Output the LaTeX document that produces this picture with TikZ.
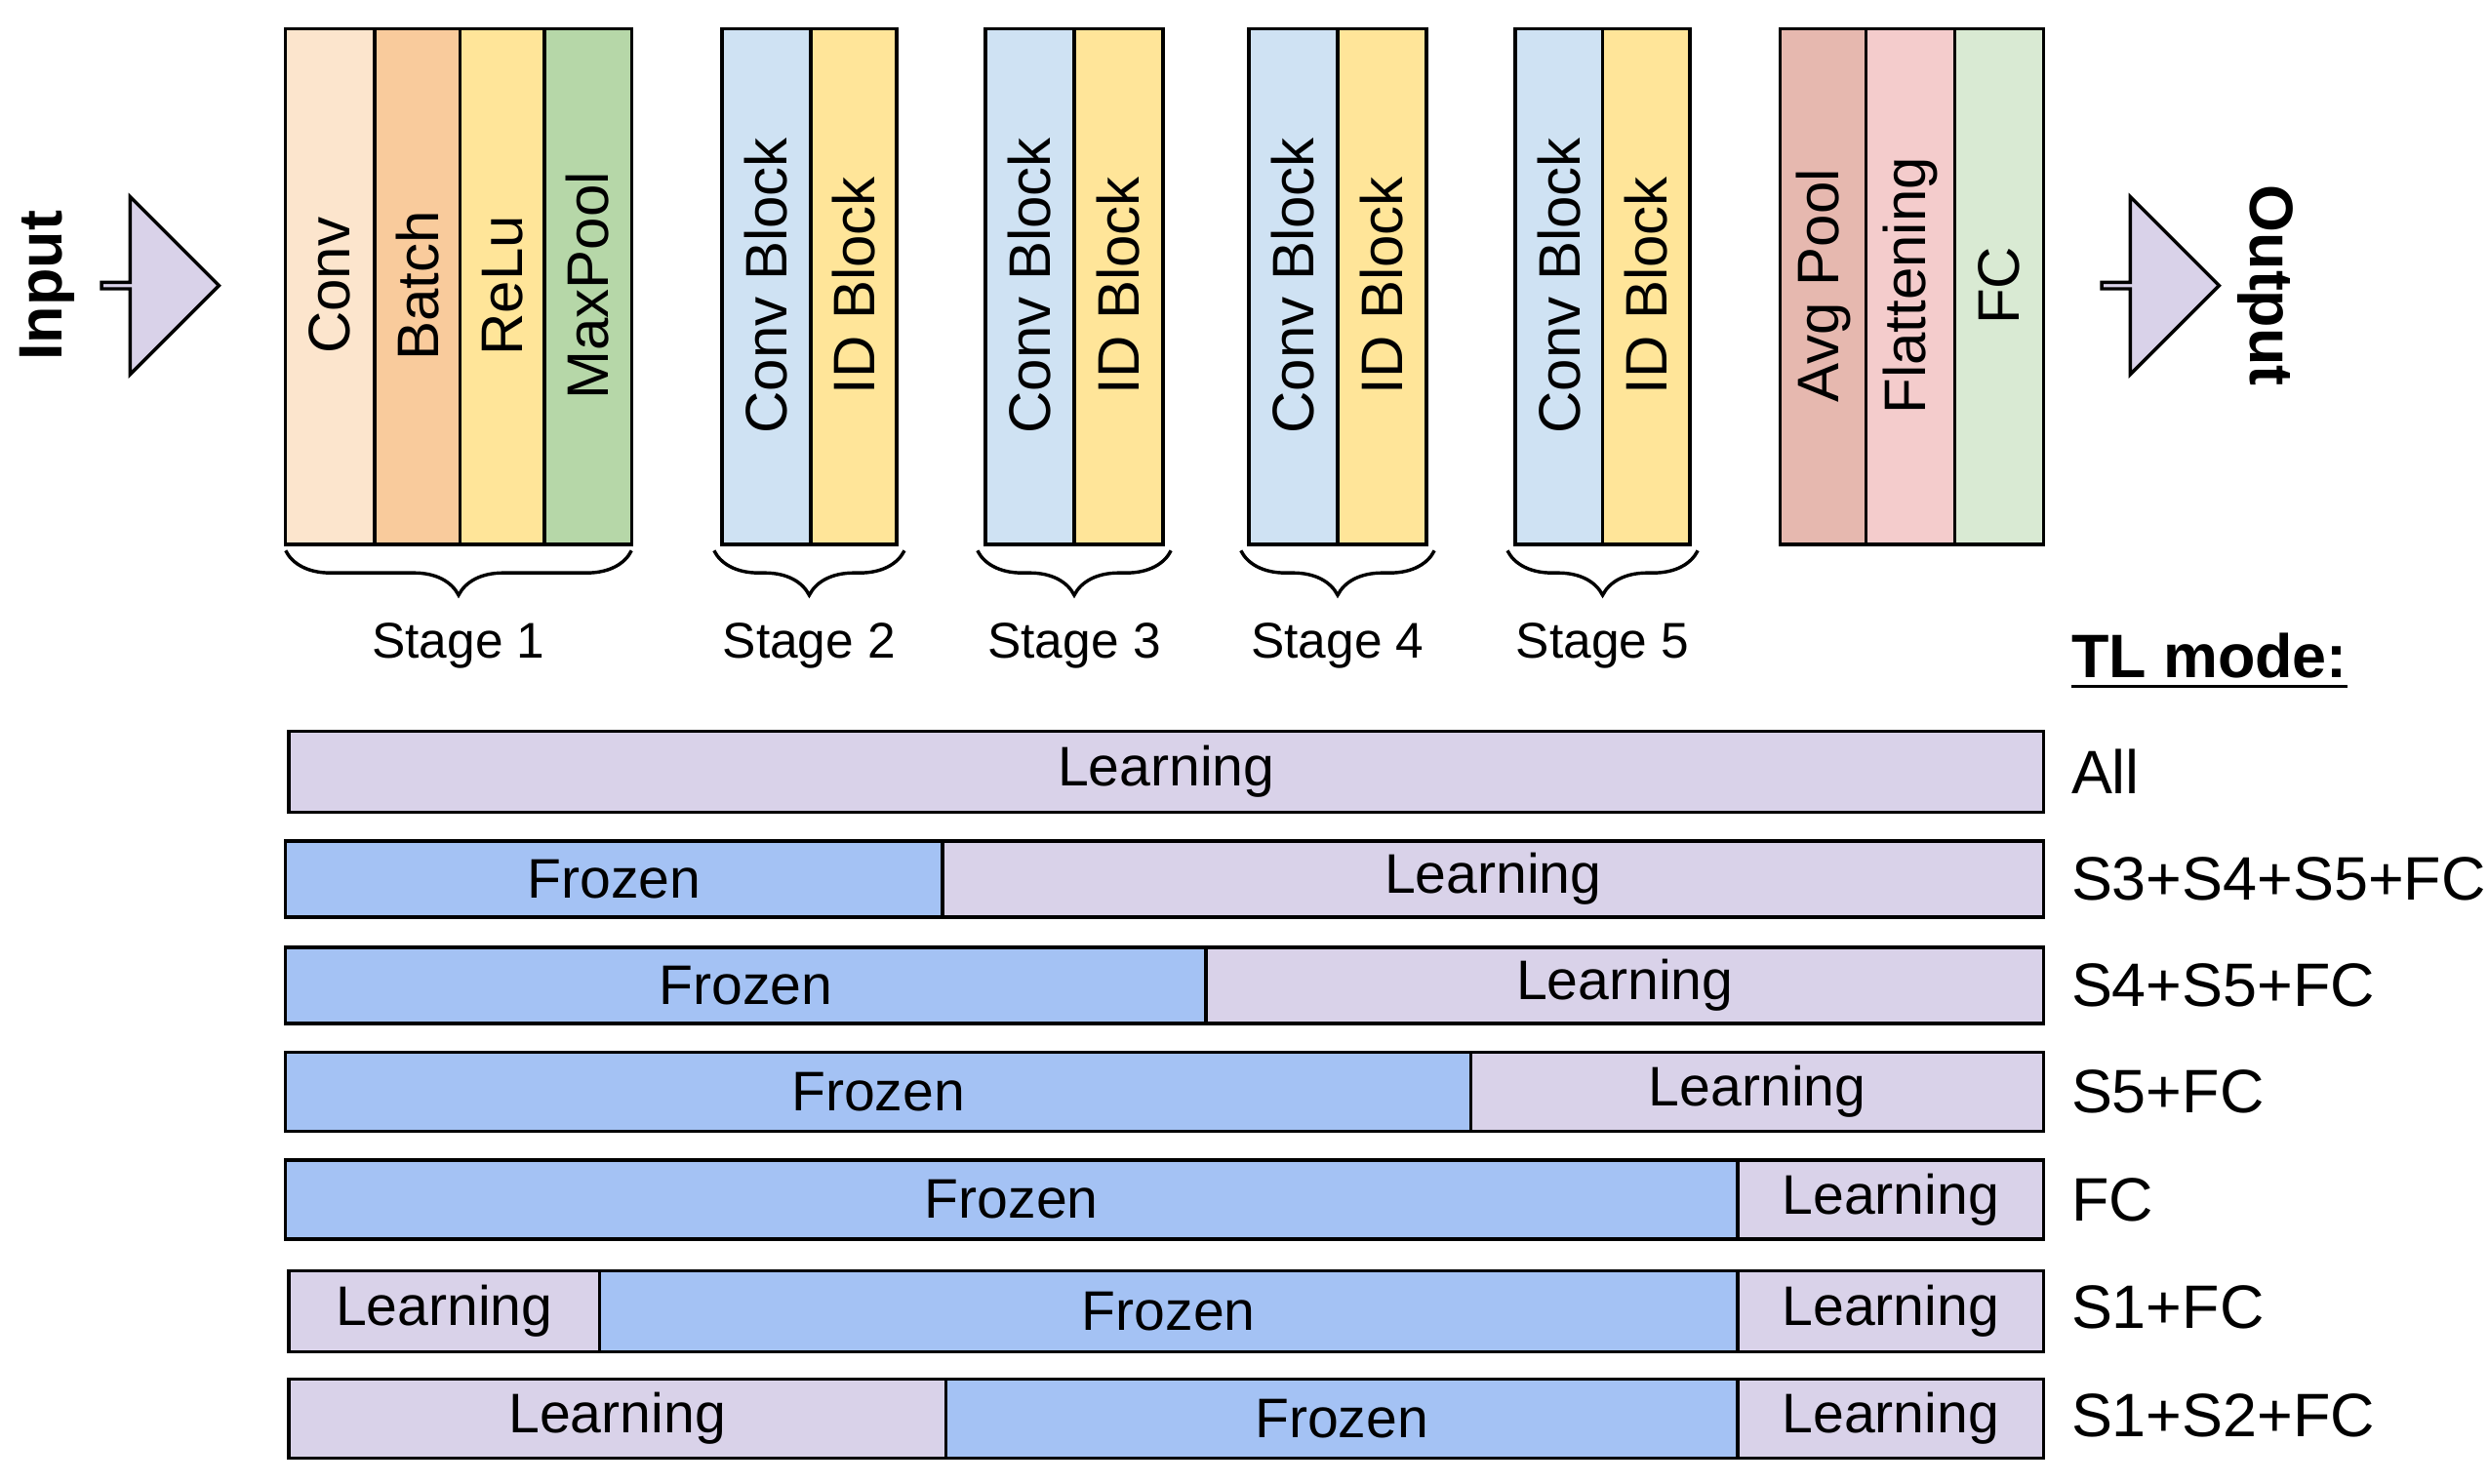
\documentclass[tikz,border=0pt]{standalone}
\usepackage{fontspec}
\setmainfont{Liberation Sans}
\usetikzlibrary{shapes.arrows,decorations.pathreplacing}
\definecolor{cConv}{HTML}{FCE5CD}
\definecolor{cBatch}{HTML}{F9CB9C}
\definecolor{cRelu}{HTML}{FFE599}
\definecolor{cPool}{HTML}{B6D7A8}
\definecolor{cCB}{HTML}{CFE2F3}
\definecolor{cAvg}{HTML}{E6B8AF}
\definecolor{cFlat}{HTML}{F4CCCC}
\definecolor{cFC}{HTML}{D9EAD3}
\definecolor{cLearn}{HTML}{D9D2E9}
\definecolor{cFroz}{HTML}{A4C2F4}
\tikzset{
  blk/.style={draw,line width=0.6pt,minimum height=3.25cm,inner sep=0pt,
    font=\fontsize{10.5}{12}\selectfont},
  bar/.style={draw,line width=0.6pt,inner sep=0pt,font=\fontsize{10}{12}\selectfont},
  brc/.style={decorate,decoration={brace,mirror,amplitude=8pt},line width=0.6pt},
  lbl/.style={font=\fontsize{9}{11}\selectfont},
  mode/.style={anchor=west,font=\fontsize{11}{13}\selectfont},
  bigarr/.style={single arrow,draw,fill=cLearn,line width=0.6pt,minimum width=1.12cm,
    single arrow head extend=0.28cm,minimum height=0.74cm,inner sep=0pt}
}
% block: x0, x1, colour, text, name
\newcommand{\blk}[5]{\path[blk,fill=#3] (#1,-0.18) rectangle (#2,-3.43);
  \node[rotate=90,font=\fontsize{10.5}{12}\selectfont] (#5) at ({(#1+#2)/2},-1.8) {#4};}
% bar segment: x0, x1, y0, y1, colour, text, name
\newcommand{\seg}[7]{\path[draw,line width=0.6pt,fill=#5] (#1,-#3) rectangle (#2,-#4);
  \node[font=\fontsize{10}{12}\selectfont] (#7) at ({(#1+#2)/2},{-(#3+#4)/2}) {#6};}
\begin{document}
\begin{tikzpicture}
\useasboundingbox (0,0) rectangle (15.68,-9.347);

% arrows
\node[bigarr] (inarr) at (1.0,-1.8) {};
\node[bigarr] (outarr) at (13.605,-1.8) {};
\node[rotate=90,font=\bfseries\fontsize{11}{13}\selectfont] (input) at (0.3,-1.8) {Input};
\node[rotate=-90,font=\bfseries\fontsize{11}{13}\selectfont] (output) at (14.28,-1.8) {Output};

% stage 1
\blk{1.80}{2.36}{cConv}{Conv}{conv}
\blk{2.36}{2.90}{cBatch}{Batch}{batch}
\blk{2.90}{3.43}{cRelu}{ReLu}{relu}
\blk{3.43}{3.98}{cPool}{MaxPool}{pool}
% stages 2-5
\blk{4.55}{5.11}{cCB}{Conv Block}{cb2}
\blk{5.11}{5.65}{cRelu}{ID Block}{id2}
\blk{6.21}{6.77}{cCB}{Conv Block}{cb3}
\blk{6.77}{7.33}{cRelu}{ID Block}{id3}
\blk{7.87}{8.43}{cCB}{Conv Block}{cb4}
\blk{8.43}{8.99}{cRelu}{ID Block}{id4}
\blk{9.55}{10.10}{cCB}{Conv Block}{cb5}
\blk{10.10}{10.65}{cRelu}{ID Block}{id5}
% head
\blk{11.22}{11.76}{cAvg}{Avg Pool}{avg}
\blk{11.76}{12.32}{cFlat}{Flattening}{flat}
\blk{12.32}{12.88}{cFC}{FC}{fc}

% braces
\foreach \a/\b/\n in {1.80/3.98/1,4.50/5.70/2,6.16/7.38/3,7.82/9.04/4,9.50/10.70/5}{
  \draw[brc] (\a,-3.47) -- (\b,-3.47);
  \node[lbl] (st\n) at ({(\a+\b)/2},-4.07) {Stage \n};
}

\node[mode,font=\bfseries\fontsize{11}{13}\selectfont] (tl) at (12.93,-4.17) {\underline{TL mode:}};

% bars
\seg{1.82}{12.88}{4.61}{5.12}{cLearn}{Learning}{a1}
\node[mode] (m1) at (12.93,-4.86) {All};
\seg{1.80}{5.94}{5.30}{5.78}{cFroz}{Frozen}{b1}
\seg{5.94}{12.88}{5.30}{5.78}{cLearn}{Learning}{b2}
\node[mode] (m2) at (12.93,-5.54) {S3+S4+S5+FC};
\seg{1.80}{7.60}{5.97}{6.45}{cFroz}{Frozen}{c1}
\seg{7.60}{12.88}{5.97}{6.45}{cLearn}{Learning}{c2}
\node[mode] (m3) at (12.93,-6.21) {S4+S5+FC};
\seg{1.80}{9.27}{6.63}{7.13}{cFroz}{Frozen}{d1}
\seg{9.27}{12.88}{6.63}{7.13}{cLearn}{Learning}{d2}
\node[mode] (m4) at (12.93,-6.88) {S5+FC};
\seg{1.80}{10.95}{7.31}{7.81}{cFroz}{Frozen}{e1}
\seg{10.95}{12.88}{7.31}{7.81}{cLearn}{Learning}{e2}
\node[mode] (m5) at (12.93,-7.56) {FC};
\seg{1.82}{3.78}{8.01}{8.52}{cLearn}{Learning}{f1}
\seg{3.78}{10.95}{8.01}{8.52}{cFroz}{Frozen}{f2}
\seg{10.95}{12.88}{8.01}{8.52}{cLearn}{Learning}{f3}
\node[mode] (m6) at (12.93,-8.24) {S1+FC};
\seg{1.82}{5.96}{8.69}{9.19}{cLearn}{Learning}{g1}
\seg{5.96}{10.95}{8.69}{9.19}{cFroz}{Frozen}{g2}
\seg{10.95}{12.88}{8.69}{9.19}{cLearn}{Learning}{g3}
\node[mode] (m7) at (12.93,-8.92) {S1+S2+FC};
\end{tikzpicture}
\end{document}
